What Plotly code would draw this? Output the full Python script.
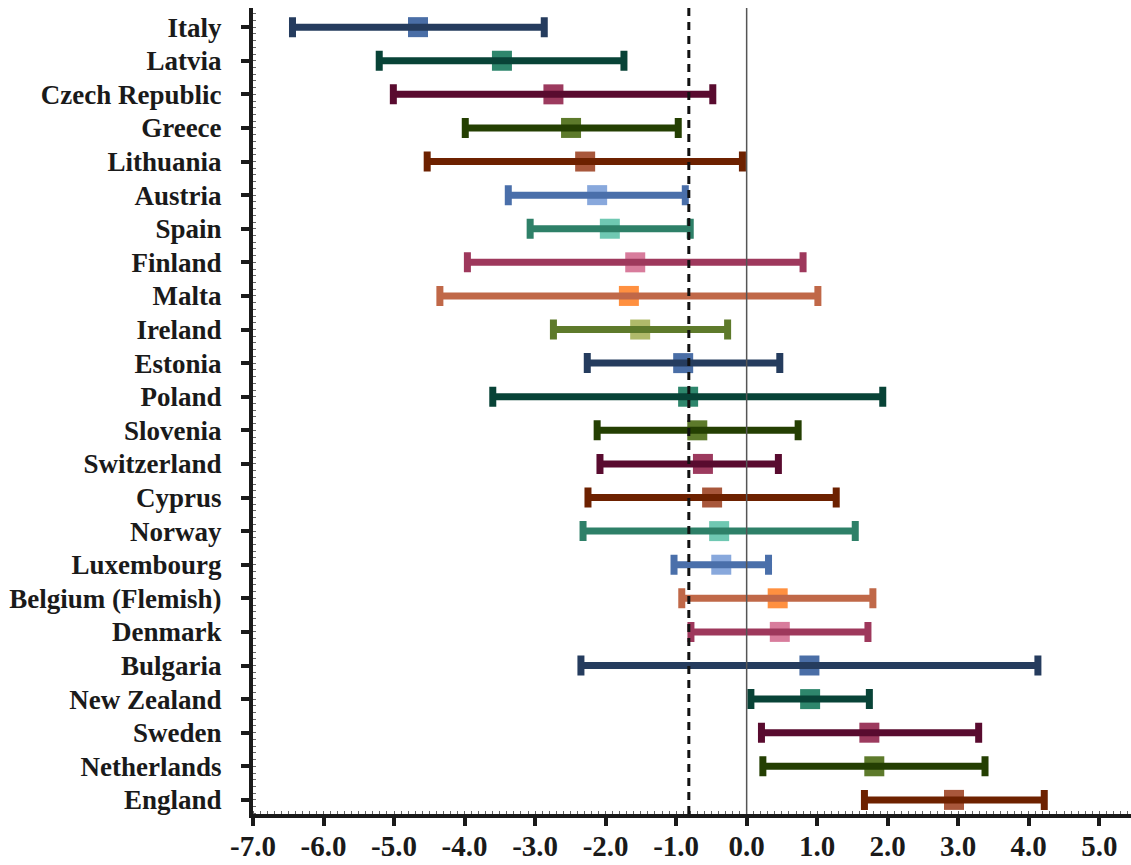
import plotly.graph_objects as go

# Countries listed top to bottom
countries = [
    "Italy", "Latvia", "Czech Republic", "Greece", "Lithuania", "Austria",
    "Spain", "Finland", "Malta", "Ireland", "Estonia", "Poland", "Slovenia",
    "Switzerland", "Cyprus", "Norway", "Luxembourg", "Belgium (Flemish)",
    "Denmark", "Bulgaria", "New Zealand", "Sweden", "Netherlands", "England",
]

# Point estimate and interval bounds per country
estimate = [
    -4.66, -3.47, -2.74, -2.49, -2.29, -2.12, -1.94, -1.58, -1.67, -1.51,
    -0.90, -0.83, -0.70, -0.62, -0.49, -0.39, -0.36, 0.44, 0.47, 0.89,
    0.90, 1.74, 1.81, 2.94,
]
lower = [
    -6.44, -5.21, -5.01, -3.99, -4.53, -3.38, -3.07, -3.96, -4.35, -2.74,
    -2.26, -3.60, -2.12, -2.08, -2.25, -2.32, -1.03, -0.92, -0.79, -2.35,
    0.06, 0.21, 0.23, 1.67,
]
upper = [
    -2.87, -1.74, -0.48, -0.97, -0.06, -0.87, -0.80, 0.80, 1.01, -0.27,
    0.47, 1.93, 0.73, 0.45, 1.27, 1.54, 0.31, 1.79, 1.72, 4.13,
    1.74, 3.29, 3.38, 4.22,
]

# Reference lines
mean_line = -0.82
zero_line = 0.0

# Axis ticks
x_ticks = [-7, -6, -5, -4, -3, -2, -1, 0, 1, 2, 3, 4, 5]
x_tick_text = ["-7.0", "-6.0", "-5.0", "-4.0", "-3.0", "-2.0", "-1.0",
               "0.0", "1.0", "2.0", "3.0", "4.0", "5.0"]

# Interval line colours and marker colours
line_colors = [
    "#253C5E", "#084337", "#590B2F", "#243F02", "#6D2100", "#4A6FAA",
    "#2E8068", "#9E385C", "#C06848", "#5E7A2B", "#253C5E", "#084337",
    "#243F02", "#590B2F", "#6D2100", "#2E8068", "#4A6FAA", "#C06848",
    "#9E385C", "#253C5E", "#084337", "#590B2F", "#243F02", "#6D2100",
]
marker_colors = [
    "#4A6EA6", "#2E866C", "#9C3A5E", "#5D7A2B", "#A8573B", "#88A8DC",
    "#6FC8B2", "#D87C9C", "#FF9040", "#B0BA6A", "#4A6EA6", "#2E866C",
    "#5D7A2B", "#9C3A5E", "#A8573B", "#6FC8B2", "#88A8DC", "#FF9040",
    "#D87C9C", "#4A6EA6", "#2E866C", "#9C3A5E", "#5D7A2B", "#A8573B",
]

rows = list(range(len(countries)))
fig = go.Figure()

for i, name in enumerate(countries):
    # square marker underneath
    fig.add_trace(go.Scatter(
        x=[estimate[i]], y=[rows[i]], mode="markers",
        marker=dict(symbol="square", size=20, color=marker_colors[i],
                    line=dict(width=0)),
        showlegend=False, hoverinfo="skip",
    ))
    # interval bar drawn over the marker
    fig.add_trace(go.Scatter(
        x=[estimate[i]], y=[rows[i]], mode="markers",
        marker=dict(size=1, color="rgba(0,0,0,0)"),
        error_x=dict(
            type="data", symmetric=False,
            array=[upper[i] - estimate[i]],
            arrayminus=[estimate[i] - lower[i]],
            color=line_colors[i], thickness=7, width=10,
        ),
        showlegend=False, name=name,
    ))

fig.add_shape(type="line", xref="x", yref="paper", x0=zero_line, x1=zero_line,
              y0=0, y1=1, line=dict(color="#555555", width=1.5), layer="above")
fig.add_shape(type="line", xref="x", yref="paper", x0=mean_line, x1=mean_line,
              y0=0, y1=1, line=dict(color="#111111", width=3, dash="8px,6px"),
              layer="above")

serif = "Liberation Serif, Times New Roman, serif"
y_font = dict(family=serif, size=27, color="#1a1a1a", weight="bold")
x_font = dict(family=serif, size=29, color="#1a1a1a", weight="bold")

fig.update_layout(
    width=1131, height=865,
    margin=dict(l=253, r=0, t=8, b=51, autoexpand=False),
    plot_bgcolor="white", paper_bgcolor="white",
    showlegend=False,
    xaxis=dict(
        range=[-7, 5.45], tickvals=x_ticks, ticktext=x_tick_text,
        tickfont=x_font, showgrid=False, zeroline=False, automargin=False,
        showline=True, linecolor="#1a1a1a", linewidth=4,
        ticks="outside", ticklen=8, tickwidth=4, tickcolor="#1a1a1a",
        ticklabelstandoff=-5,
        minor=dict(dtick=0.1, ticks="inside", ticklen=3, tickwidth=1,
                   tickcolor="#666666"),
    ),
    yaxis=dict(
        range=[len(countries) - 1 + 0.42, -0.57], tickvals=rows,
        ticktext=countries, tickfont=y_font, showgrid=False, automargin=False,
        zeroline=False, showline=True, linecolor="#1a1a1a", linewidth=4,
        ticks="outside", ticklen=8, tickwidth=4, tickcolor="#1a1a1a",
        ticklabelstandoff=14,
        minor=dict(dtick=0.2, ticks="inside", ticklen=3, tickwidth=1,
                   tickcolor="#666666"),
    ),
)

fig.write_html("out.html")
